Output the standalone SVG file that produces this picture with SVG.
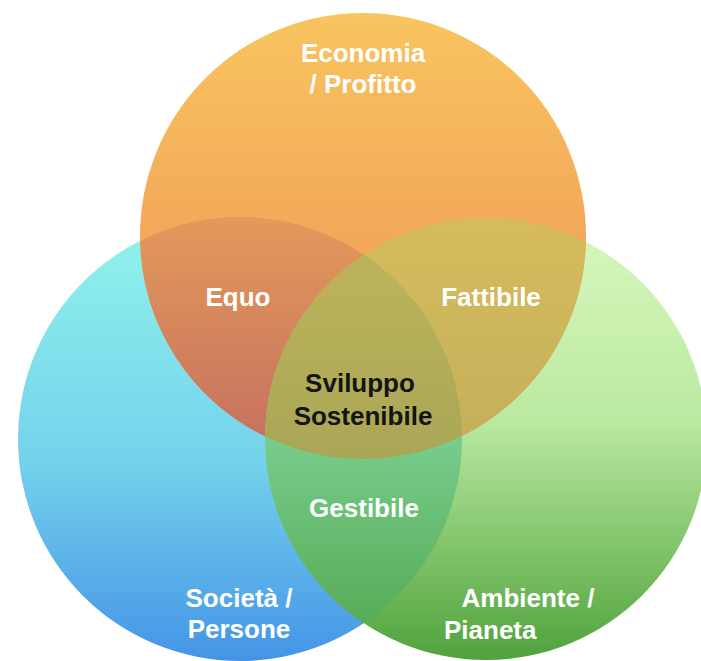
<svg xmlns="http://www.w3.org/2000/svg" width="701" height="661" viewBox="0 0 701 661">
  <style>
    .lbl { font-family: "Liberation Sans", Arial, Helvetica, sans-serif; font-weight: bold; font-size: 26px; fill: #ffffff; text-anchor: middle; }
    .dark { fill: #141414; }
  </style>
  <defs>
    <linearGradient id="gA" gradientUnits="userSpaceOnUse" x1="0" y1="13" x2="0" y2="459">
      <stop offset="0" stop-color="#F8C55F"/>
      <stop offset="1" stop-color="#EE8B55"/>
    </linearGradient>
    <linearGradient id="gB" gradientUnits="userSpaceOnUse" x1="0" y1="217" x2="0" y2="661">
      <stop offset="0" stop-color="#92F4EA"/>
      <stop offset="0.55" stop-color="#74D2EC"/>
      <stop offset="1" stop-color="#4494E6"/>
    </linearGradient>
    <linearGradient id="gC" gradientUnits="userSpaceOnUse" x1="0" y1="217" x2="0" y2="661">
      <stop offset="0" stop-color="#D8F7BE"/>
      <stop offset="0.45" stop-color="#BCEAA2"/>
      <stop offset="1" stop-color="#4FA23C"/>
    </linearGradient>
    <linearGradient id="gAB" gradientUnits="userSpaceOnUse" x1="0" y1="217" x2="0" y2="459">
      <stop offset="0" stop-color="#E39A5A"/>
      <stop offset="1" stop-color="#C46E60"/>
    </linearGradient>
    <linearGradient id="gAC" gradientUnits="userSpaceOnUse" x1="0" y1="217" x2="0" y2="459">
      <stop offset="0" stop-color="#D6BC5D"/>
      <stop offset="1" stop-color="#C4AE5A"/>
    </linearGradient>
    <linearGradient id="gBC" gradientUnits="userSpaceOnUse" x1="0" y1="440" x2="0" y2="661">
      <stop offset="0" stop-color="#78CC8C"/>
      <stop offset="1" stop-color="#4FA64C"/>
    </linearGradient>
    <linearGradient id="gABC" gradientUnits="userSpaceOnUse" x1="0" y1="280" x2="0" y2="459">
      <stop offset="0" stop-color="#BBB25A"/>
      <stop offset="1" stop-color="#A9A656"/>
    </linearGradient>
    <clipPath id="cA"><circle cx="363" cy="236" r="223"/></clipPath>
    <clipPath id="cB"><circle cx="240" cy="439" r="222"/></clipPath>
    <clipPath id="cC"><circle cx="486" cy="439" r="221"/></clipPath>
  </defs>
  <rect width="701" height="661" fill="#ffffff"/>

  <g id="societa">
    <circle cx="240" cy="439" r="222" fill="url(#gB)"/>
  </g>
  <g id="ambiente">
    <circle cx="486" cy="439" r="221" fill="url(#gC)"/>
  </g>
  <g id="economia">
    <circle cx="363" cy="236" r="223" fill="url(#gA)"/>
  </g>

  <g id="equo">
    <circle cx="240" cy="439" r="222" fill="url(#gAB)" clip-path="url(#cA)"/>
  </g>
  <g id="fattibile">
    <circle cx="486" cy="439" r="221" fill="url(#gAC)" clip-path="url(#cA)"/>
  </g>
  <g id="gestibile">
    <circle cx="486" cy="439" r="221" fill="url(#gBC)" clip-path="url(#cB)"/>
  </g>
  <g id="sviluppo-sostenibile">
    <g clip-path="url(#cA)">
      <circle cx="486" cy="439" r="221" fill="url(#gABC)" clip-path="url(#cB)"/>
    </g>
  </g>

  <g id="labels">
    <text class="lbl" x="363" y="62">Economia</text>
    <text class="lbl" x="363" y="93">/ Profitto</text>
    <text class="lbl" x="238" y="306">Equo</text>
    <text class="lbl" x="491" y="306">Fattibile</text>
    <text class="lbl dark" x="360" y="392">Sviluppo</text>
    <text class="lbl dark" x="363" y="425">Sostenibile</text>
    <text class="lbl" x="364" y="517">Gestibile</text>
    <text class="lbl" x="239" y="607">Società /</text>
    <text class="lbl" x="239" y="638">Persone</text>
    <text class="lbl" x="528" y="607">Ambiente /</text>
    <text class="lbl" x="444" y="639" style="text-anchor:start">Pianeta</text>
  </g>
</svg>
